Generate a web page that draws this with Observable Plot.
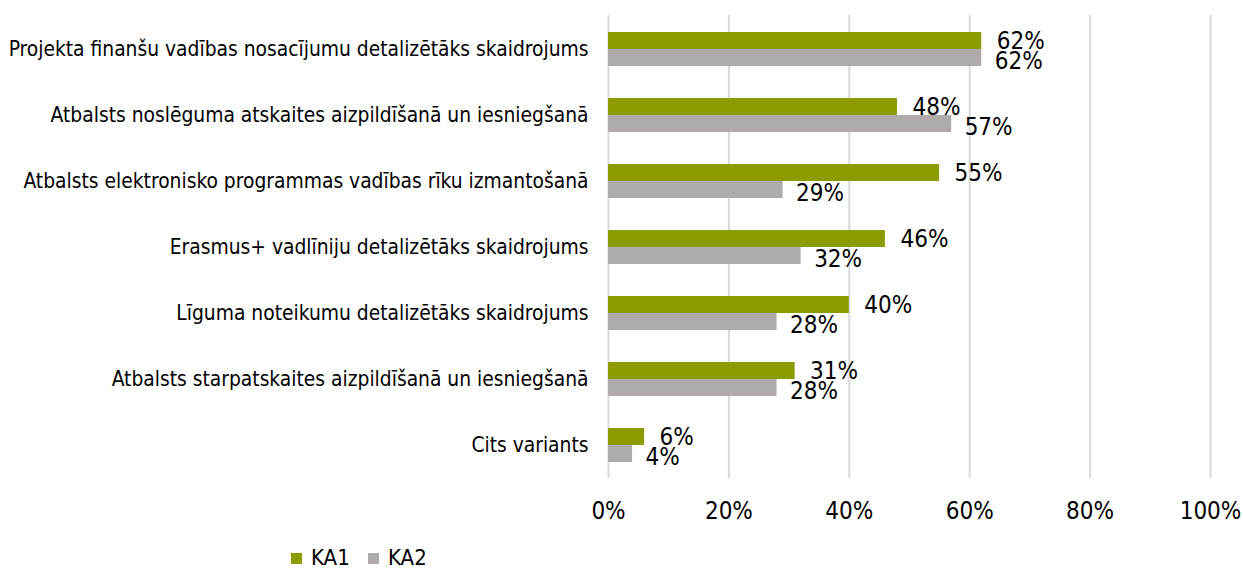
<!DOCTYPE html>
<html>
<head>
<meta charset="utf-8">
<script src="https://cdn.jsdelivr.net/npm/d3@7"></script>
<script src="https://cdn.jsdelivr.net/npm/@observablehq/plot@0.6"></script>
<style>
  html, body { margin: 0; padding: 0; background: #fff; }
  #chart { position: relative; width: 1243px; }
  #legend { position: relative; height: 40px; font-family: "DejaVu Sans Condensed", sans-serif; font-size: 22px; color: #000; }
  .item { position: absolute; top: 19px; display: flex; align-items: center; line-height: 1; }
  .sw { width: 11px; height: 11px; margin-right: 9px; }
</style>
</head>
<body>
<div id="chart"></div>
<div id="legend"></div>
<script>
const categories = [
  "Projekta finanšu vadības nosacījumu detalizētāks skaidrojums",
  "Atbalsts noslēguma atskaites aizpildīšanā un iesniegšanā",
  "Atbalsts elektronisko programmas vadības rīku izmantošanā",
  "Erasmus+ vadlīniju detalizētāks skaidrojums",
  "Līguma noteikumu detalizētāks skaidrojums",
  "Atbalsts starpatskaites aizpildīšanā un iesniegšanā",
  "Cits variants"
];
const seriesNames = ["KA1", "KA2"];
const ka1 = [62, 48, 55, 46, 40, 31, 6];
const ka2 = [62, 57, 29, 32, 28, 28, 4];
const labelsKa1 = ["62%", "48%", "55%", "46%", "40%", "31%", "6%"];
const labelsKa2 = ["62%", "57%", "29%", "32%", "28%", "28%", "4%"];
const xTicks = [0, 20, 40, 60, 80, 100];
const colors = ["#8C9C00", "#AFABAB"];

const rowsA = categories.map((c, i) => ({cat: c, v: ka1[i], label: labelsKa1[i]}));
const rowsB = categories.map((c, i) => ({cat: c, v: ka2[i], label: labelsKa2[i]}));

const font = "DejaVu Sans Condensed, sans-serif";

const chart = Plot.plot({
  width: 1243,
  height: 528,
  marginLeft: 608,
  marginRight: 33,
  marginTop: 15,
  marginBottom: 50,
  style: {fontFamily: font, fontSize: "21px", color: "#000", background: "#fff"},
  x: {domain: [0, 100], label: null},
  y: {domain: categories, label: null, paddingInner: 0.485, paddingOuter: 0.2425},
  marks: [
    Plot.gridX(xTicks, {stroke: "#D9D9D9", strokeOpacity: 1, strokeWidth: 2}),
    Plot.axisX(xTicks, {tickFormat: d => d + "%", tickSize: 0, tickPadding: 23, fontSize: 24, label: null, fill: "#000"}),
    Plot.axisY({tickSize: 0, tickPadding: 20, fontSize: 20.8, label: null, fill: "#000"}),
    Plot.barX(rowsA, {x: "v", y: "cat", fill: colors[0], insetBottom: 17}),
    Plot.barX(rowsB, {x: "v", y: "cat", fill: colors[1], insetTop: 17}),
    Plot.text(rowsA, {x: "v", y: "cat", text: "label", dx: 15, dy: -8, textAnchor: "start", fontSize: 24, fill: "#000"}),
    Plot.text(rowsB, {x: "v", y: "cat", text: "label", dx: 13, dy: 12, textAnchor: "start", fontSize: 24, fill: "#000"})
  ]
});
document.getElementById("chart").appendChild(chart);

const legend = document.getElementById("legend");
const lpos = [291, 368];
seriesNames.forEach((n, i) => {
  const d = document.createElement("div");
  d.className = "item";
  d.style.left = lpos[i] + "px";
  const s = document.createElement("span");
  s.className = "sw";
  s.style.background = colors[i];
  const t = document.createElement("span");
  t.textContent = n;
  d.appendChild(s); d.appendChild(t);
  legend.appendChild(d);
});
</script>
</body>
</html>
